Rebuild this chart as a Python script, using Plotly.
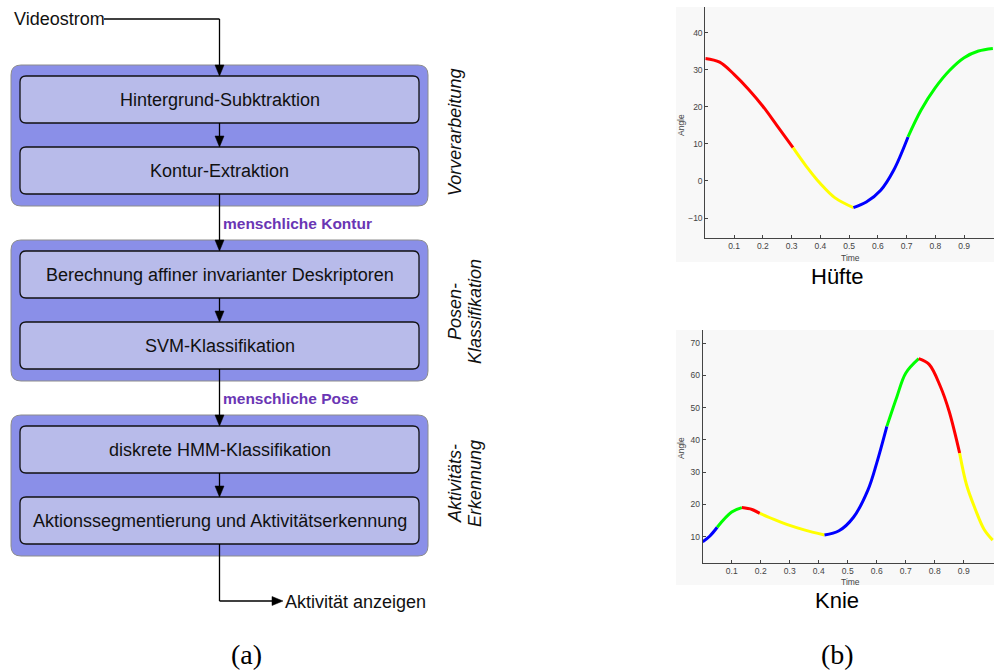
import plotly.graph_objects as go

# ---------------- data: flowchart texts ----------------
input_label = "Videostrom"
output_label = "Aktivität anzeigen"
stage_labels = [
    "Hintergrund-Subktraktion",
    "Kontur-Extraktion",
    "Berechnung affiner invarianter Deskriptoren",
    "SVM-Klassifikation",
    "diskrete HMM-Klassifikation",
    "Aktionssegmentierung und Aktivitätserkennung",
]
group_labels = [["Vorverarbeitung"], ["Posen-", "Klassifikation"], ["Aktivitäts-", "Erkennung"]]
flow_labels = ["menschliche Kontur", "menschliche Pose"]
panel_labels = ["(a)", "(b)"]
chart_titles = ["Hüfte", "Knie"]

# ---------------- data: hip (Hüfte) ----------------
hip_time = [0.0, 0.05, 0.1, 0.15, 0.2, 0.25, 0.305,
            0.35, 0.4, 0.45, 0.515,
            0.56, 0.61, 0.655, 0.705,
            0.75, 0.8, 0.85, 0.9, 0.95, 1.0]
hip_angle = [33.1, 32.1, 28.8, 24.8, 20.2, 14.9, 9.0,
             4.1, -0.7, -4.5, -7.2,
             -5.7, -2.5, 2.9, 11.9,
             19.1, 25.2, 29.9, 33.3, 35.1, 35.8]
hip_breaks = [0, 6, 10, 14, 20]
hip_colors = ["#ff0000", "#ffff00", "#0000ff", "#00ff00"]
hip_yticks = [-10, 0, 10, 20, 30, 40]

# ---------------- data: knee (Knie) ----------------
knee_time = [0.0, 0.025, 0.05,
             0.1, 0.135,
             0.17, 0.197,
             0.25, 0.3, 0.35, 0.42,
             0.47, 0.52, 0.57, 0.6, 0.635,
             0.67, 0.7, 0.745,
             0.78, 0.82, 0.85, 0.886,
             0.91, 0.94, 0.97, 1.0]
knee_angle = [8.4, 10.2, 12.9,
              17.6, 19.0,
              18.4, 17.2,
              15.2, 13.5, 12.1, 10.5,
              11.8, 16.0, 24.5, 32.8, 44.2,
              53.5, 60.7, 65.2,
              63.5, 56.5, 48.8, 35.9,
              26.0, 18.5, 12.3, 8.9]
knee_breaks = [0, 2, 4, 6, 10, 15, 18, 22, 26]
knee_colors = ["#0000ff", "#00ff00", "#ff0000", "#ffff00", "#0000ff", "#00ff00", "#ff0000", "#ffff00"]
knee_yticks = [10, 20, 30, 40, 50, 60, 70]

time_ticks = [0.1, 0.2, 0.3, 0.4, 0.5, 0.6, 0.7, 0.8, 0.9]

W, H = 994, 670
SANS = "Liberation Sans, Arial, sans-serif"
SERIF = "Liberation Serif, Times New Roman, serif"
PURPLE = "#6a36b4"
OUTER_FILL = "#8a8fe8"
INNER_FILL = "#b8bbea"


def px(x):
    return x / W


def py(y):
    return 1 - y / H


fig = go.Figure()


# ---- chart traces ----
def add_segments(t, a, breaks, colors, xa, ya):
    for i, c in enumerate(colors):
        s, e = breaks[i], breaks[i + 1]
        fig.add_trace(go.Scatter(
            x=t[s:e + 1], y=a[s:e + 1], mode="lines",
            line=dict(color=c, width=3, shape="spline"),
            xaxis=xa, yaxis=ya, showlegend=False, hoverinfo="skip", cliponaxis=False))


add_segments(hip_time, hip_angle, hip_breaks, hip_colors, "x2", "y2")
add_segments(knee_time, knee_angle, knee_breaks, knee_colors, "x3", "y3")

# invisible trace to anchor the canvas axes
fig.add_trace(go.Scatter(x=[100], y=[100], mode="markers", marker=dict(opacity=0),
                         xaxis="x", yaxis="y", showlegend=False, hoverinfo="skip"))

shapes = []
annotations = []

# ---- gray chart backgrounds ----
for (x0, y0, x1, y1) in [(676, 7, 994, 262), (676, 330, 994, 585)]:
    shapes.append(dict(type="rect", xref="paper", yref="paper",
                       x0=px(x0), x1=px(x1), y0=py(y1), y1=py(y0),
                       fillcolor="#f8f8f8", line=dict(width=0), layer="below"))


# ---- flowchart (canvas axis in page pixel units) ----
def rrect(x0, y0, x1, y1, r):
    return (f"M{x0 + r},{y0} L{x1 - r},{y0} Q{x1},{y0} {x1},{y0 + r} "
            f"L{x1},{y1 - r} Q{x1},{y1} {x1 - r},{y1} L{x0 + r},{y1} "
            f"Q{x0},{y1} {x0},{y1 - r} L{x0},{y0 + r} Q{x0},{y0} {x0 + r},{y0} Z")


outer = [(65, 206), (240, 381), (415, 556)]
inner = [(76, 123), (147, 194), (251, 298), (322, 369), (426, 473), (497, 544)]
cx = 219.5

for (y0, y1) in outer:
    shapes.append(dict(type="path", xref="x", yref="y", path=rrect(11, y0, 428, y1, 10),
                       fillcolor=OUTER_FILL, line=dict(color="#8c8c8c", width=1)))
for (y0, y1) in inner:
    shapes.append(dict(type="path", xref="x", yref="y", path=rrect(20, y0, 419, y1, 6),
                       fillcolor=INNER_FILL, line=dict(color="#111111", width=1.3)))


def vline(x, y0, y1):
    shapes.append(dict(type="line", xref="x", yref="y", x0=x, x1=x, y0=y0, y1=y1,
                       line=dict(color="black", width=1.3)))


def hline(y, x0, x1):
    shapes.append(dict(type="line", xref="x", yref="y", x0=x0, x1=x1, y0=y, y1=y,
                       line=dict(color="black", width=1.3)))


def head_down(x, tip):
    shapes.append(dict(type="path", xref="x", yref="y",
                       path=f"M{x - 4.5},{tip - 11} L{x + 4.5},{tip - 11} L{x},{tip} Z",
                       fillcolor="black", line=dict(color="black", width=0.5)))


def head_right(y, tip):
    shapes.append(dict(type="path", xref="x", yref="y",
                       path=f"M{tip - 11},{y - 4.5} L{tip - 11},{y + 4.5} L{tip},{y} Z",
                       fillcolor="black", line=dict(color="black", width=0.5)))


# input arrow
hline(19, 104, cx)
vline(cx, 19, 66)
head_down(cx, 76)
# arrows between boxes
for i in range(len(inner) - 1):
    vline(cx, inner[i][1], inner[i + 1][0] - 10)
    head_down(cx, inner[i + 1][0])
# output arrow
vline(cx, inner[-1][1], 601)
hline(601, cx, 273)
head_right(601, 283)

# box texts
for lab, (y0, y1) in zip(stage_labels, inner):
    annotations.append(dict(xref="x", yref="y", x=cx, y=(y0 + y1) / 2 + 0.5, text=lab,
                            showarrow=False, xanchor="center", yanchor="middle",
                            font=dict(family=SANS, size=18, color="#111111")))

annotations.append(dict(xref="x", yref="y", x=12, y=19, text=input_label, showarrow=False,
                        xanchor="left", yanchor="middle",
                        font=dict(family=SANS, size=18, color="#111111")))
annotations.append(dict(xref="x", yref="y", x=283, y=602, text=output_label, showarrow=False,
                        xanchor="left", yanchor="middle",
                        font=dict(family=SANS, size=18, color="#111111")))

for lab, y in zip(flow_labels, [223, 398]):
    annotations.append(dict(xref="x", yref="y", x=221, y=y, text=f"<b>{lab}</b>",
                            showarrow=False, xanchor="left", yanchor="middle",
                            font=dict(family=SANS, size=15.5, color=PURPLE)))

# rotated group labels
group_centers = [(455, 133), (465, 312), (465, 484)]
for lines, (gx, gy) in zip(group_labels, group_centers):
    n = len(lines)
    for k, ln in enumerate(lines):
        x = gx + (k - (n - 1) / 2) * 20
        annotations.append(dict(xref="x", yref="y", x=x, y=gy, text=f"<i>{ln}</i>",
                                textangle=-90, showarrow=False,
                                xanchor="center", yanchor="middle",
                                font=dict(family=SANS, size=18, color="#111111")))

# chart titles, axis titles
for title, y in zip(chart_titles, [276, 600]):
    annotations.append(dict(xref="x", yref="y", x=837, y=y, text=title, showarrow=False,
                            xanchor="center", yanchor="middle",
                            font=dict(family=SANS, size=22, color="#000000")))
for y in [258, 582]:
    annotations.append(dict(xref="x", yref="y", x=850, y=y, text="Time", showarrow=False,
                            xanchor="center", yanchor="middle",
                            font=dict(family=SANS, size=8.5, color="#444444")))
for y in [125, 448]:
    annotations.append(dict(xref="x", yref="y", x=681, y=y, text="Angle", showarrow=False,
                            textangle=-90, xanchor="center", yanchor="middle",
                            font=dict(family=SANS, size=8.5, color="#444444")))

# panel labels
for lab, x in zip(panel_labels, [246, 837]):
    annotations.append(dict(xref="x", yref="y", x=x, y=654, text=lab, showarrow=False,
                            xanchor="center", yanchor="middle",
                            font=dict(family=SERIF, size=28, color="#000000")))

hidden = dict(visible=False, showgrid=False, zeroline=False, fixedrange=True)

chart_axis = dict(showgrid=False, zeroline=False, showline=True, linecolor="#444444",
                  linewidth=1, ticks="inside", ticklen=3, tickcolor="#444444",
                  tickfont=dict(family=SANS, size=8.5, color="#444444"), fixedrange=True)

fig.update_layout(
    width=W, height=H,
    margin=dict(l=0, r=0, t=0, b=0),
    paper_bgcolor="white", plot_bgcolor="rgba(0,0,0,0)",
    showlegend=False,
    xaxis=dict(domain=[0, 1], range=[0, W], **hidden),
    yaxis=dict(domain=[0, 1], range=[H, 0], **hidden),
    xaxis2=dict(domain=[px(705.3), 1], range=[0, 1.004], anchor="y2",
                tickvals=time_ticks, **chart_axis),
    yaxis2=dict(domain=[py(238), py(7)], range=[-15.4, 47], anchor="x2",
                tickvals=hip_yticks, **chart_axis),
    xaxis3=dict(domain=[px(702.7), 1], range=[0, 1.0045], anchor="y3",
                tickvals=time_ticks, **chart_axis),
    yaxis3=dict(domain=[py(562.7), py(330)], range=[1.9, 74.1], anchor="x3",
                tickvals=knee_yticks, **chart_axis),
    shapes=shapes,
    annotations=annotations,
)

fig.write_html(
    "out.html",
    config={"displayModeBar": False},
    post_script="document.body.style.margin='0px';document.body.style.overflow='hidden';",
)
